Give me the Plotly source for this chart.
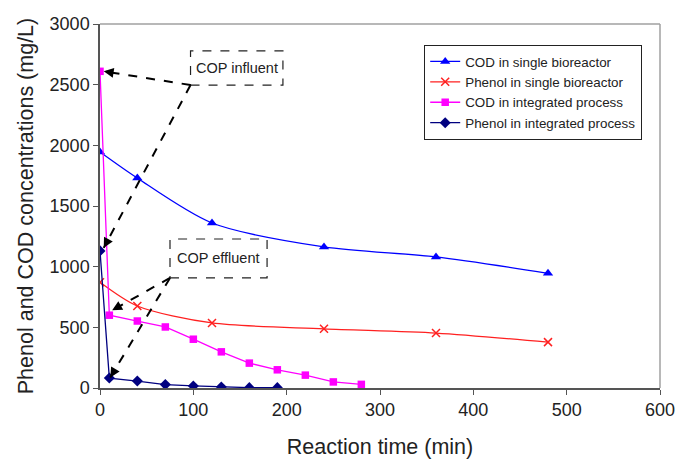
import math
import plotly.graph_objects as go

# Data
t_single = [0, 40, 120, 240, 360, 480]
cod_single = [1945, 1730, 1360, 1163, 1080, 945]
phenol_single = [872, 676, 536, 488, 453, 378]

t_int = [0, 10, 40, 70, 100, 130, 160, 190, 220, 250, 280]
cod_int = [2610, 600, 552, 503, 402, 298, 205, 150, 106, 50, 30]

t_phen_int = [0, 10, 40, 70, 100, 130, 160, 190]
phenol_int = [1130, 82, 57, 28, 17, 9, 3, 3]

FONT = "Liberation Sans, Arial, sans-serif"
BLUE = "#0000FF"
RED = "#FF2020"
MAGENTA = "#FF00FF"
NAVY = "#000080"

W, H = 676, 459
ML, MR, MT, MB = 100, 16, 24, 71
XR = [0, 600]
YR = [0, 3000]
PX_X = (W - ML - MR) / (XR[1] - XR[0])
PX_Y = (H - MT - MB) / (YR[1] - YR[0])

fig = go.Figure()
fig.add_trace(go.Scatter(x=t_single, y=cod_single, mode="lines+markers",
                         name="COD in single bioreactor", legendgroup="a",
                         line=dict(color=BLUE, width=1.3, shape="spline", smoothing=0.8),
                         marker=dict(symbol="triangle-up", size=9, color=BLUE)))
fig.add_trace(go.Scatter(x=t_single, y=phenol_single, mode="lines+markers",
                         name="Phenol in single bioreactor", legendgroup="b",
                         line=dict(color=RED, width=1.3, shape="spline", smoothing=0.8),
                         marker=dict(symbol="x-thin", size=8, color=RED,
                                     line=dict(color=RED, width=1.5))))
fig.add_trace(go.Scatter(x=t_int, y=cod_int, mode="lines+markers",
                         name="COD in integrated process", legendgroup="c",
                         line=dict(color=MAGENTA, width=1.3),
                         marker=dict(symbol="square", size=7.5, color=MAGENTA)))
fig.add_trace(go.Scatter(x=t_phen_int, y=phenol_int, mode="lines+markers",
                         name="Phenol in integrated process", legendgroup="d",
                         line=dict(color=NAVY, width=1.3),
                         marker=dict(symbol="diamond", size=8.5, color=NAVY)))

shapes = []
annotations = []
# Frame top/right in gray
shapes.append(dict(type="line", xref="paper", yref="paper", x0=0, x1=1, y0=1, y1=1,
                   line=dict(color="#a0a0a0", width=1.5)))
shapes.append(dict(type="line", xref="paper", yref="paper", x0=1, x1=1, y0=0, y1=1,
                   line=dict(color="#a0a0a0", width=1.5)))

# Callout boxes
boxes = [
    dict(x0=97, x1=196, y0=2497, y1=2778, text="COP influent",
         targets=[(t_int[0] + 4, cod_int[0]), (t_phen_int[0] + 4, phenol_int[0] + 25)]),
    dict(x0=75, x1=179, y0=907, y1=1228, text="COP effluent",
         targets=[(t_int[1] + 3, cod_int[1] + 40), (t_phen_int[1] + 1, phenol_int[1] + 5)]),
]
for b in boxes:
    shapes.append(dict(type="rect", xref="x", yref="y", x0=b["x0"], x1=b["x1"],
                       y0=b["y0"], y1=b["y1"], line=dict(color="#222", width=1.2, dash="dash"),
                       fillcolor="white", layer="above"))
    annotations.append(dict(x=(b["x0"] + b["x1"]) / 2, y=(b["y0"] + b["y1"]) / 2,
                            xref="x", yref="y", text=b["text"], showarrow=False,
                            font=dict(family=FONT, size=14.5, color="#222")))
    for (tx, ty) in b["targets"]:
        shapes.append(dict(type="line", xref="x", yref="y", x0=b["x0"], y0=b["y0"],
                           x1=tx, y1=ty, line=dict(color="black", width=2, dash="dash")))
        # short arrow tail so only the head shows over the dashed line
        dxp = (b["x0"] - tx) * PX_X
        dyp = (b["y0"] - ty) * PX_Y
        L = math.hypot(dxp, dyp)
        k = 9 / L
        annotations.append(dict(x=tx, y=ty, xref="x", yref="y",
                                ax=tx + dxp * k / PX_X, ay=ty + dyp * k / PX_Y,
                                axref="x", ayref="y", showarrow=True, arrowhead=2,
                                arrowsize=1.1, arrowwidth=1.8, arrowcolor="black",
                                text=""))

fig.update_layout(
    width=W, height=H,
    margin=dict(l=ML, r=MR, t=MT, b=MB),
    paper_bgcolor="white", plot_bgcolor="white",
    font=dict(family=FONT, color="#222"),
    showlegend=True,
    legend=dict(x=(642 - ML) / (W - ML - MR), y=(H - MB - 45) / (H - MT - MB),
                xanchor="right", yanchor="top",
                bordercolor="#222", borderwidth=1.2, bgcolor="white",
                font=dict(family=FONT, size=13.4, color="#222"),
                itemwidth=30, tracegroupgap=5, traceorder="normal"),
    shapes=shapes, annotations=annotations,
)
fig.update_xaxes(range=XR, dtick=100, showgrid=False, zeroline=False, automargin=False,
                 showline=True, linecolor="#555", linewidth=1.5,
                 ticks="outside", ticklen=5, tickcolor="#555",
                 tickfont=dict(family=FONT, size=18, color="#222"),
                 title=dict(text="Reaction time (min)", font=dict(family=FONT, size=21.5, color="#222"),
                            standoff=21))
fig.update_yaxes(range=YR, dtick=500, showgrid=False, zeroline=False, automargin=False,
                 showline=True, linecolor="#555", linewidth=1.5,
                 ticks="outside", ticklen=5, tickcolor="#555",
                 tickfont=dict(family=FONT, size=18, color="#222"),
                 title=dict(text="Phenol and COD concentrations (mg/L)",
                            font=dict(family=FONT, size=21.5, color="#222"), standoff=10))

fig.write_html("out.html")
